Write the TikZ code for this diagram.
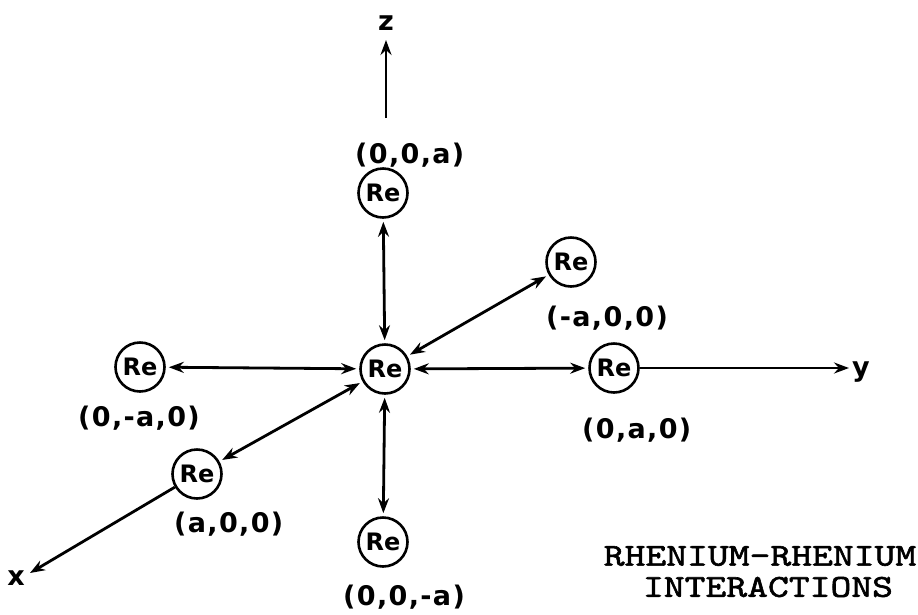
\documentclass[tikz,border=0pt]{standalone}
\usepackage{fontspec}
\usetikzlibrary{positioning}
\usetikzlibrary{arrows.meta}
\newfontfamily\lblfont[LetterSpace=5]{DejaVu Sans Bold}
\newfontfamily\refont{DejaVu Sans Bold}
\newfontfamily\ttlfont[Extension=.otf, FakeStretch=1.24, FakeBold=1.8]{lmmono10-regular}

\begin{document}
\begin{tikzpicture}[x=1pt, y=-1pt,
		re/.style = {circle, draw, line width=2.6pt, minimum size=49pt, inner sep=0pt, font=\refont\fontsize{24}{26}\selectfont},
		lbl/.style = {font=\lblfont\fontsize{27}{29}\selectfont, inner sep=0pt},
		ttl/.style = {font=\ttlfont\fontsize{32}{34}\selectfont, inner sep=0pt},
		r/.style = {{Stealth[length=15pt,width=11pt,inset=5pt]}-{Stealth[length=15pt,width=11pt,inset=5pt]}, line width=2.8pt, shorten <=3pt, shorten >=3pt},
		ax/.style = {-{Stealth[length=15pt,width=11pt,inset=5pt]}, line width=2.8pt}
		]
		\useasboundingbox (0,0) rectangle (918,614);
		
		%Nodes
		\node[re]	(c)		at	(385, 369)	{Re};
		\node[re]	(zp)	at	(383, 193)	{Re};
		\node[re]	(xm)	at	(571, 262)	{Re};
		\node[re]	(ym)	at	(140, 367)	{Re};
		\node[re]	(yp)	at	(614, 368)	{Re};
		\node[re]	(xp)	at	(197, 474)	{Re};
		\node[re]	(zm)	at	(383, 542)	{Re};
		
		\node[lbl, anchor=west]	(lzp)	at	(355, 155)	{(0,0,a)};
		\node[lbl, anchor=west]	(lxm)	at	(546, 318)	{(-a,0,0)};
		\node[lbl, anchor=west]	(lym)	at	(78, 418)	{(0,-a,0)};
		\node[lbl, anchor=west]	(lyp)	at	(582, 430)	{(0,a,0)};
		\node[lbl, anchor=west]	(lxp)	at	(174, 524)	{(a,0,0)};
		\node[lbl, anchor=west]	(lzm)	at	(343, 597)	{(0,0,-a)};
		
		\node[lbl]	(z)		at	(386, 23)	{z};
		\node[lbl]	(y)		at	(861, 372)	{y};
		\node[lbl]	(x)		at	(16, 578)	{x};
		
		\node[ttl]	(t1)	at	(760, 556)	{RHENIUM-RHENIUM};
		\node[ttl]	(t2)	at	(768, 587)	{INTERACTIONS};
		
		\coordinate (zend) at (386, 40);
		\coordinate (zbeg) at (386, 118);
		\coordinate (yend) at (849, 368);
		\coordinate (xend) at (30, 573);
		
		%Lines
		\draw[r]	(c)	to	(zp);
		\draw[r]	(c)	to	(xm);
		\draw[r]	(c)	to	(ym);
		\draw[r]	(c)	to	(yp);
		\draw[r]	(c)	to	(xp);
		\draw[r]	(c)	to	(zm);
		\draw[ax]	(zbeg)	to	(zend);
		\draw[ax]	(yp)	to	(yend);
		\draw[ax]	(xp)	to	(xend);
	\end{tikzpicture}
\end{document}
